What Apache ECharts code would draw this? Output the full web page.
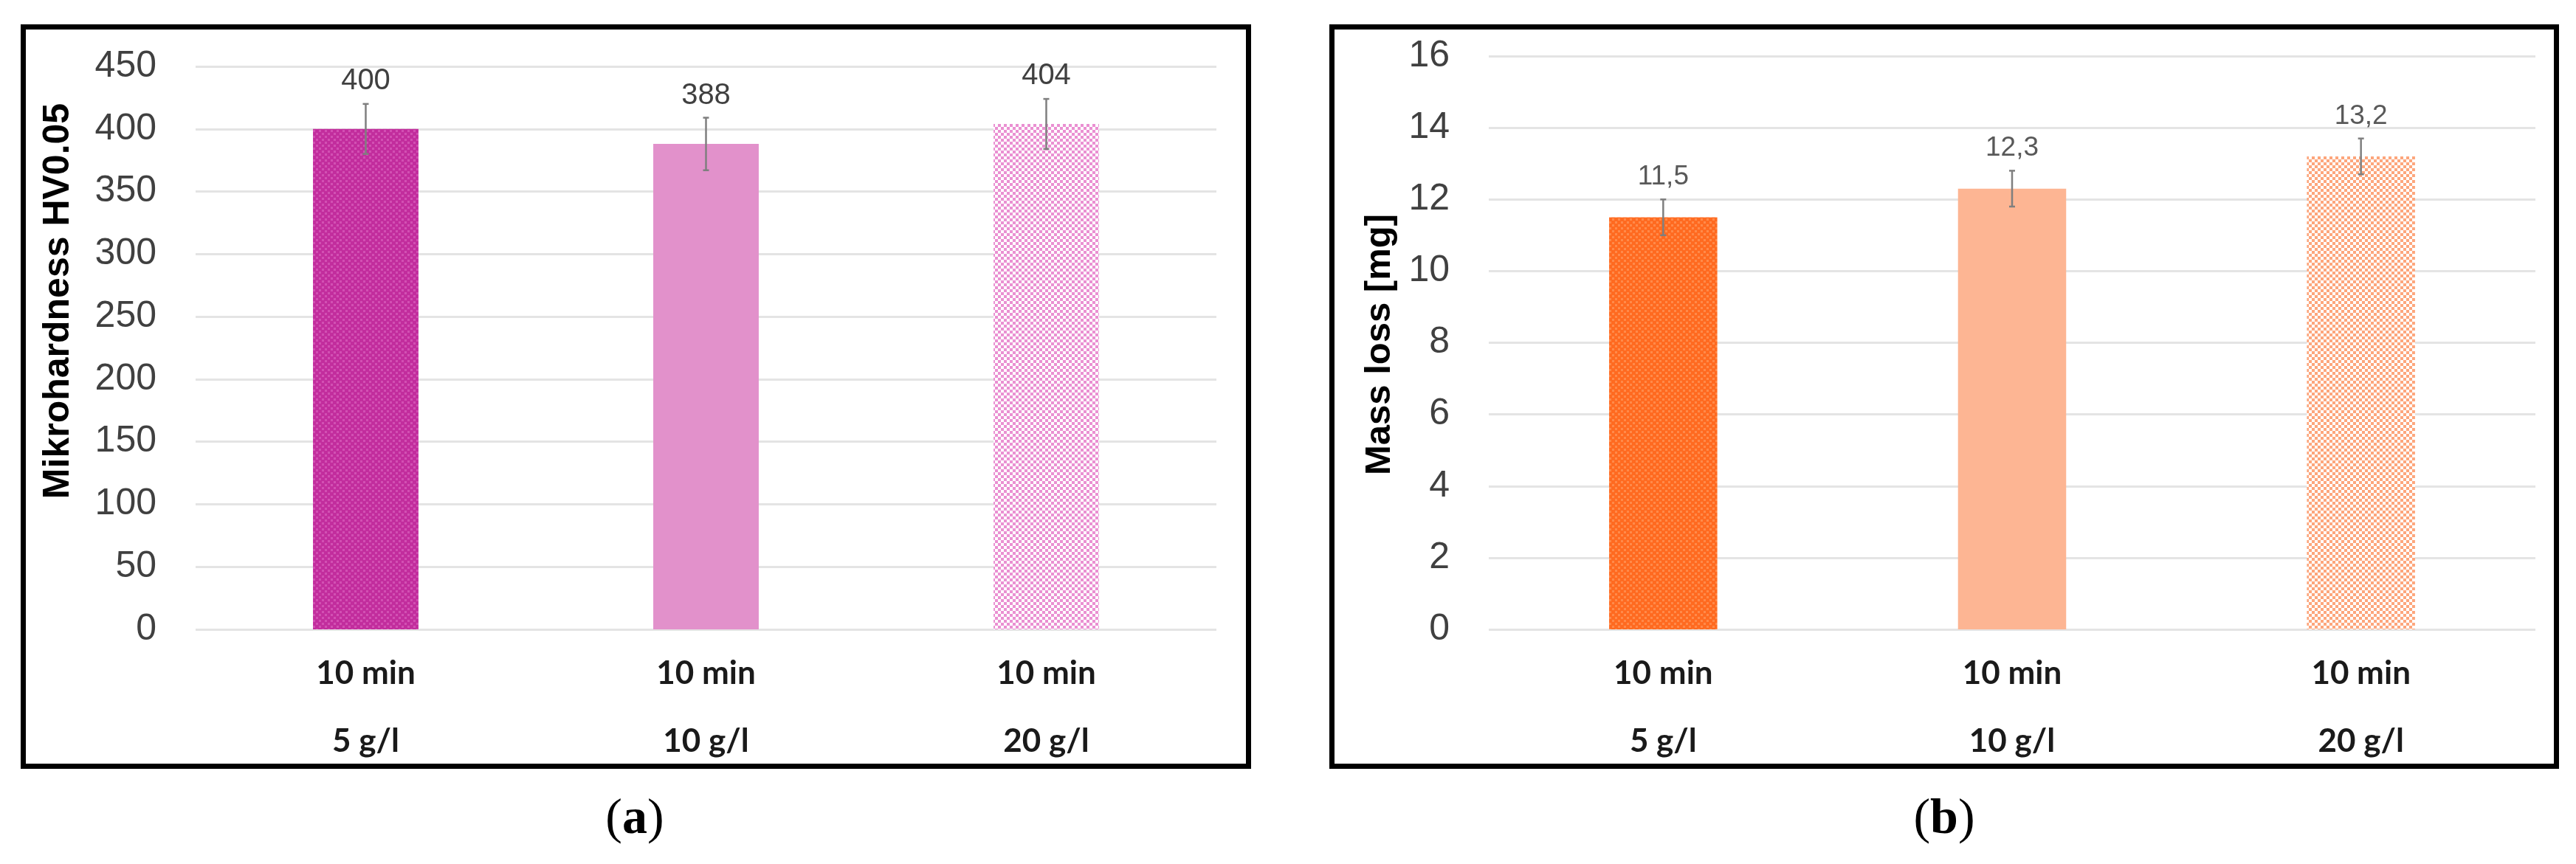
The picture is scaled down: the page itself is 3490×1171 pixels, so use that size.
<!DOCTYPE html>
<html>
<head>
<meta charset="utf-8">
<script src="https://cdn.jsdelivr.net/npm/echarts@6/dist/echarts.min.js"></script>
<style>
html,body{margin:0;padding:0;background:#fff;}
#chart{width:3490px;height:1171px;}
</style>
</head>
<body>
<div id="chart"></div>
<script>
// ---- data ----
const categoriesTime = ['10 min', '10 min', '10 min'];
const categoriesConc = ['5 g/l', '10 g/l', '20 g/l'];
const hardness = [400, 388, 404];
const hardnessErr = [20, 21, 20];
const massLoss = [11.5, 12.3, 13.2];
const massLossErr = [0.5, 0.5, 0.5];
const hardnessAxis = { min: 0, max: 450, interval: 50 };
const massAxis = { min: 0, max: 16, interval: 2 };
const hardnessName = 'Mikrohardness HV0.05';
const massName = 'Mass loss [mg]';
const panelLetters = ['a', 'b'];

// ---- patterns (style) ----
function checker(base, fg, size, sq) {
  const c = document.createElement('canvas');
  c.width = size; c.height = size;
  const g = c.getContext('2d');
  g.fillStyle = base; g.fillRect(0, 0, size, size);
  g.fillStyle = fg;
  g.fillRect(0, 0, sq, sq);
  g.fillRect(size / 2, size / 2, sq, sq);
  return { image: c, repeat: 'repeat' };
}
const colorsA = [
  checker('#C22D9D', '#D250B3', 8, 3),
  '#E291CB',
  checker('#FFFFFF', '#EA90D2', 8, 4)
];
const colorsB = [
  checker('#FF6A20', '#FF8A4A', 8, 3),
  '#FDB593',
  checker('#FFFFFF', '#FDA67C', 8, 4)
];

const catLabels = categoriesTime.map((t, i) => t + '\n\n' + categoriesConc[i]);

function errRender(params, api) {
  const x = api.value(0), v = api.value(1), e = api.value(2);
  const top = api.coord([x, v + e]);
  const bot = api.coord([x, v - e]);
  const cap = 4;
  const st = { stroke: '#7f7f7f', lineWidth: 2.5 };
  return {
    type: 'group',
    children: [
      { type: 'line', shape: { x1: top[0], y1: top[1], x2: bot[0], y2: bot[1] }, style: st },
      { type: 'line', shape: { x1: top[0] - cap, y1: top[1], x2: top[0] + cap, y2: top[1] }, style: st },
      { type: 'line', shape: { x1: bot[0] - cap, y1: bot[1], x2: bot[0] + cap, y2: bot[1] }, style: st }
    ]
  };
}

const tickFont = "'Liberation Sans', Arial, sans-serif";
const catFont = "Lato, 'Open Sans', sans-serif";

function xAxisCfg(idx) {
  return {
    type: 'category', gridIndex: idx, data: catLabels,
    axisLine: { show: false }, axisTick: { show: false },
    axisLabel: { margin: 37, fontFamily: catFont, fontWeight: 'bold', fontSize: 44, lineHeight: 46, color: '#1a1a1a' }
  };
}
function yAxisCfg(idx, ax) {
  return {
    type: 'value', gridIndex: idx, min: ax.min, max: ax.max, interval: ax.interval,
    axisLine: { show: false }, axisTick: { show: false },
    axisLabel: { margin: 53, fontFamily: tickFont, fontSize: 50, color: '#404040' },
    splitLine: { show: true, lineStyle: { color: '#e4e4e4', width: 3 } }
  };
}

const option = {
  backgroundColor: '#ffffff',
  animation: false,
  grid: [
    { left: 265, right: 3490 - 1648, top: 90, bottom: 1171 - 853 },
    { left: 2017, right: 3490 - 3435, top: 76, bottom: 1171 - 853 }
  ],
  xAxis: [xAxisCfg(0), xAxisCfg(1)],
  yAxis: [yAxisCfg(0, hardnessAxis), yAxisCfg(1, massAxis)],
  series: [
    {
      type: 'bar', xAxisIndex: 0, yAxisIndex: 0, barWidth: '31%',
      data: hardness.map((v, i) => ({ value: v, itemStyle: { color: colorsA[i] } })),
      label: { show: true, position: 'top', distance: 45, fontFamily: tickFont, fontSize: 40, color: '#404040' }
    },
    {
      type: 'custom', xAxisIndex: 0, yAxisIndex: 0, z: 5,
      renderItem: errRender, encode: { x: 0, y: 1 },
      data: hardness.map((v, i) => [i, v, hardnessErr[i]])
    },
    {
      type: 'bar', xAxisIndex: 1, yAxisIndex: 1, barWidth: '31%',
      data: massLoss.map((v, i) => ({ value: v, itemStyle: { color: colorsB[i] } })),
      label: {
        show: true, position: 'top', distance: 36, fontFamily: tickFont, fontSize: 37, color: '#595959',
        formatter: p => String(p.value).replace('.', ',')
      }
    },
    {
      type: 'custom', xAxisIndex: 1, yAxisIndex: 1, z: 5,
      renderItem: errRender, encode: { x: 0, y: 1 },
      data: massLoss.map((v, i) => [i, v, massLossErr[i]])
    }
  ],
  graphic: [
    { type: 'rect', shape: { x: 31.5, y: 36.5, width: 1660, height: 1002 }, style: { fill: null, stroke: '#000', lineWidth: 7 }, z: 10 },
    { type: 'rect', shape: { x: 1804.5, y: 36.5, width: 1659, height: 1002 }, style: { fill: null, stroke: '#000', lineWidth: 7 }, z: 10 },
    { type: 'text', x: 79, y: 408, rotation: Math.PI / 2,
      style: { text: hardnessName, fontFamily: tickFont, fontWeight: 'bold', fontSize: 50, fill: '#000', align: 'center', verticalAlign: 'middle' } },
    { type: 'text', x: 1869, y: 467, rotation: Math.PI / 2,
      style: { text: massName, fontFamily: tickFont, fontWeight: 'bold', fontSize: 49, fill: '#000', align: 'center', verticalAlign: 'middle' } },
    { type: 'text', x: 860, y: 1111,
      style: { text: '{p|(}{l|' + panelLetters[0] + '}{p|)}', align: 'center', verticalAlign: 'middle',
        rich: { p: { fontFamily: "'Liberation Serif', 'Times New Roman', serif", fontSize: 68, fill: '#000' },
                l: { fontFamily: "'Liberation Serif', 'Times New Roman', serif", fontSize: 68, fontWeight: 'bold', fill: '#000' } } } },
    { type: 'text', x: 2634, y: 1111,
      style: { text: '{p|(}{l|' + panelLetters[1] + '}{p|)}', align: 'center', verticalAlign: 'middle',
        rich: { p: { fontFamily: "'Liberation Serif', 'Times New Roman', serif", fontSize: 68, fill: '#000' },
                l: { fontFamily: "'Liberation Serif', 'Times New Roman', serif", fontSize: 68, fontWeight: 'bold', fill: '#000' } } } }
  ]
};

const chart = echarts.init(document.getElementById('chart'), null, { renderer: 'canvas' });
chart.setOption(option);
</script>
</body>
</html>
